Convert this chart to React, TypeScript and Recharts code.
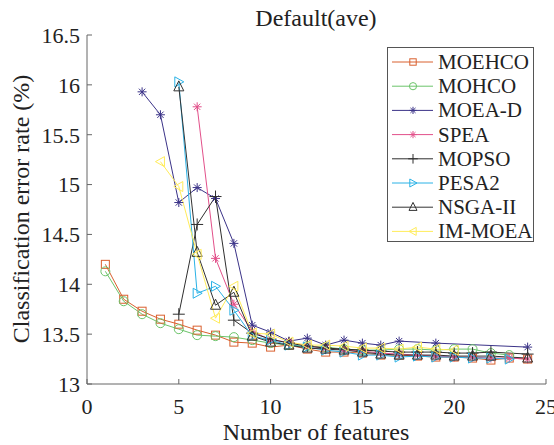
import React from 'react';
import { LineChart, Line, XAxis, YAxis, Legend } from 'recharts';

const FONT = '"Liberation Serif", "Times New Roman", serif';

// x values (number of features) and error rates per algorithm
const moehcoX = [1, 2, 3, 4, 5, 6, 7, 8, 9, 10, 11, 12, 13, 14, 15, 16, 17, 18, 19, 20, 21, 22, 23, 24];
const moehcoY = [14.2, 13.85, 13.73, 13.65, 13.6, 13.54, 13.49, 13.42, 13.41, 13.37, 13.39, 13.35, 13.32, 13.32, 13.31, 13.29, 13.29, 13.28, 13.27, 13.27, 13.26, 13.24, 13.26, 13.25];

const mohcoX = [1, 2, 3, 4, 5, 6, 7, 8, 9, 10, 11, 12, 13, 14, 15, 16, 17, 18, 19, 20, 21, 22, 23];
const mohcoY = [14.13, 13.83, 13.7, 13.61, 13.55, 13.49, 13.48, 13.47, 13.44, 13.41, 13.39, 13.38, 13.37, 13.35, 13.34, 13.34, 13.35, 13.35, 13.34, 13.35, 13.35, 13.31, 13.29];

const moeadX = [3, 4, 5, 6, 7, 8, 9, 10, 11, 12, 13, 14, 15, 16, 17, 19, 24];
const moeadY = [15.93, 15.7, 14.82, 14.97, 14.86, 14.41, 13.59, 13.52, 13.43, 13.46, 13.39, 13.44, 13.41, 13.39, 13.43, 13.41, 13.37];

const speaX = [6, 7, 8, 9, 10, 11, 12, 13, 14, 15, 16, 17, 18, 19, 20, 21, 22, 23, 24];
const speaY = [15.78, 14.26, 13.8, 13.53, 13.44, 13.42, 13.38, 13.36, 13.34, 13.33, 13.31, 13.3, 13.29, 13.28, 13.27, 13.27, 13.26, 13.26, 13.25];

const mopsoX = [5, 6, 7, 8, 9, 10, 11, 12, 13, 14, 15, 16, 17, 18, 19, 20, 21, 22, 24];
const mopsoY = [13.7, 14.6, 14.88, 13.64, 13.51, 13.45, 13.41, 13.38, 13.36, 13.35, 13.34, 13.33, 13.32, 13.32, 13.32, 13.31, 13.31, 13.32, 13.3];

const pesa2X = [5, 6, 7, 8, 9, 10, 11, 12, 13, 14, 15, 16, 17, 18, 19, 20, 21, 22, 23];
const pesa2Y = [16.03, 13.91, 13.98, 13.74, 13.48, 13.44, 13.39, 13.37, 13.34, 13.32, 13.29, 13.29, 13.27, 13.28, 13.27, 13.27, 13.26, 13.26, 13.25];

const nsga2X = [5, 6, 7, 8, 9, 10, 11, 12, 13, 14, 15, 16, 17, 18, 19, 20, 21, 22, 24];
const nsga2Y = [15.98, 14.32, 13.79, 13.92, 13.48, 13.42, 13.39, 13.36, 13.35, 13.34, 13.32, 13.3, 13.29, 13.29, 13.29, 13.28, 13.28, 13.28, 13.26];

const immoeaX = [4, 5, 6, 7, 8, 9, 10, 11, 12, 13, 14, 15, 16, 17, 18, 19, 20];
const immoeaY = [15.23, 14.98, 14.3, 13.66, 13.98, 13.51, 13.5, 13.42, 13.39, 13.39, 13.38, 13.36, 13.36, 13.35, 13.37, 13.35, 13.34];

const xTicks = [0, 5, 10, 15, 20, 25];
const yTicks = [13, 13.5, 14, 14.5, 15, 15.5, 16, 16.5];

type Shape = 'square' | 'circle' | 'asterisk' | 'plus' | 'triR' | 'triU' | 'triL';

const series: { name: string; x: number[]; y: number[]; color: string; shape: Shape }[] = [
  { name: 'MOEHCO', x: moehcoX, y: moehcoY, color: '#D9602E', shape: 'square' },
  { name: 'MOHCO', x: mohcoX, y: mohcoY, color: '#6CC46A', shape: 'circle' },
  { name: 'MOEA-D', x: moeadX, y: moeadY, color: '#3B3388', shape: 'asterisk' },
  { name: 'SPEA', x: speaX, y: speaY, color: '#E2508A', shape: 'asterisk' },
  { name: 'MOPSO', x: mopsoX, y: mopsoY, color: '#2E2E2E', shape: 'plus' },
  { name: 'PESA2', x: pesa2X, y: pesa2Y, color: '#2AB2E6', shape: 'triR' },
  { name: 'NSGA-II', x: nsga2X, y: nsga2Y, color: '#333333', shape: 'triU' },
  { name: 'IM-MOEA', x: immoeaX, y: immoeaY, color: '#FFEC5A', shape: 'triL' },
];

function Marker({ shape, cx, cy, color, s = 1 }: { shape: Shape; cx: number; cy: number; color: string; s?: number }) {
  const p = { fill: 'none', stroke: color, strokeWidth: 1 };
  switch (shape) {
    case 'square':
      return <rect x={cx - 4 * s} y={cy - 4 * s} width={8 * s} height={8 * s} {...p} />;
    case 'circle':
      return <circle cx={cx} cy={cy} r={4.5 * s} {...p} />;
    case 'asterisk': {
      const r = 4.5 * s;
      const d = r * 0.7;
      return (
        <path
          d={`M${cx - r},${cy}H${cx + r}M${cx},${cy - r}V${cy + r}M${cx - d},${cy - d}L${cx + d},${cy + d}M${cx - d},${cy + d}L${cx + d},${cy - d}`}
          {...p}
        />
      );
    }
    case 'plus': {
      const r = 6 * s;
      return <path d={`M${cx - r},${cy}H${cx + r}M${cx},${cy - r}V${cy + r}`} {...p} />;
    }
    case 'triR':
      return <polygon points={`${cx + 5 * s},${cy} ${cx - 4 * s},${cy - 5 * s} ${cx - 4 * s},${cy + 5 * s}`} {...p} />;
    case 'triL':
      return <polygon points={`${cx - 5 * s},${cy} ${cx + 4 * s},${cy - 5 * s} ${cx + 4 * s},${cy + 5 * s}`} {...p} />;
    case 'triU':
      return <polygon points={`${cx},${cy - 6 * s} ${cx - 5 * s},${cy + 4 * s} ${cx + 5 * s},${cy + 4 * s}`} {...p} />;
  }
  return null;
}

const renderLegend = () => (
  <svg width={147} height={195}>
    <rect x={0.5} y={0.5} width={146} height={194} fill="#fff" stroke="#555" />
    {series.map((s, i) => {
      const cy = 15 + i * 24.2;
      return (
        <g key={s.name}>
          <line x1={5} x2={46} y1={cy} y2={cy} stroke={s.color} strokeWidth={1} />
          <Marker shape={s.shape} cx={26} cy={cy} color={s.color} s={0.8} />
          <text x={51} y={cy + 7} fontSize={21} fontFamily={FONT} fill="#222">
            {s.name}
          </text>
        </g>
      );
    })}
  </svg>
);

const XTick = (props: any) => (
  <text x={props.x} y={props.y} dy="0.71em" textAnchor="middle" fontSize={22} fontFamily={FONT} fill="#222">
    {props.payload.value}
  </text>
);

const YTick = (props: any) => (
  <text x={props.x} y={props.y} dy="0.36em" textAnchor="end" fontSize={22} fontFamily={FONT} fill="#222">
    {props.payload.value}
  </text>
);

const axisStroke = '#666';

export default function App() {
  return (
    <div style={{ position: 'absolute', left: 0, top: 0, width: 554, height: 445, background: '#fff' }}>
      <LineChart width={554} height={445} margin={{ top: 35, right: 8, bottom: 0, left: 0 }}>
        <XAxis
          type="number"
          dataKey="x"
          domain={[0, 25]}
          ticks={xTicks}
          height={61}
          tickSize={-5}
          tickMargin={19}
          stroke={axisStroke}
          tick={XTick}
          allowDataOverflow
        />
        <XAxis
          xAxisId="top"
          orientation="top"
          type="number"
          dataKey="x"
          domain={[0, 25]}
          ticks={xTicks}
          height={0}
          tickSize={-5}
          tick={false}
          stroke={axisStroke}
          allowDataOverflow
        />
        <YAxis
          type="number"
          domain={[13, 16.5]}
          ticks={yTicks}
          width={87}
          tickSize={-5}
          tickMargin={12}
          stroke={axisStroke}
          tick={YTick}
          allowDataOverflow
        />
        <YAxis
          yAxisId="right"
          orientation="right"
          type="number"
          domain={[13, 16.5]}
          ticks={yTicks}
          width={0}
          tickSize={-5}
          tick={false}
          stroke={axisStroke}
          allowDataOverflow
        />
        {series.map((s) => (
          <Line
            key={s.name}
            name={s.name}
            data={s.x.map((xv, i) => ({ x: xv, y: s.y[i] }))}
            dataKey="y"
            stroke={s.color}
            strokeWidth={1}
            isAnimationActive={false}
            dot={(props: any) => (
              <Marker key={`${s.name}-${props.index}`} shape={s.shape} cx={props.cx} cy={props.cy} color={s.color} />
            )}
            activeDot={false}
          />
        ))}
        <Legend
          layout="vertical"
          align="center"
          verticalAlign="middle"
          wrapperStyle={{ left: 387, top: 47, width: 147, height: 195 }}
          content={renderLegend}
        />
      </LineChart>
      <svg width={554} height={445} style={{ position: 'absolute', left: 0, top: 0, pointerEvents: 'none' }}>
        <text x={316} y={26} textAnchor="middle" fontSize={24} fontFamily={FONT} fill="#222">
          Default(ave)
        </text>
        <text x={316} y={440} textAnchor="middle" fontSize={24} fontFamily={FONT} fill="#222">
          Number of features
        </text>
        <text transform="translate(29,209) rotate(-90)" textAnchor="middle" fontSize={24} fontFamily={FONT} fill="#222">
          Classification error rate (%)
        </text>
      </svg>
    </div>
  );
}
